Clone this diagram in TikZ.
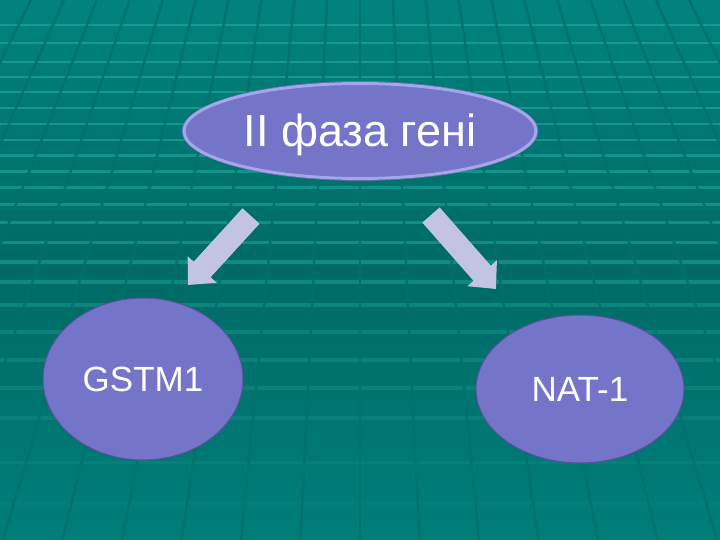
\documentclass[tikz,border=0pt]{standalone}
\usepackage{fontspec}
\setmainfont{Liberation Sans}
\usetikzlibrary{shapes.geometric,arrows.meta}
\definecolor{bgtop}{HTML}{00837E}
\definecolor{bgmid}{HTML}{006A66}
\definecolor{bgbot}{HTML}{007E7A}
\definecolor{stripecol}{HTML}{1A9C92}
\definecolor{gridcol}{HTML}{00706B}
\definecolor{nodefill}{HTML}{7474C8}
\definecolor{nodeedge}{HTML}{5B4E9A}
\definecolor{bevel}{HTML}{A4A6EC}
\definecolor{outline}{HTML}{6A6AA8}
\definecolor{arrowfill}{HTML}{C3C3E5}
\begin{document}
\begin{tikzpicture}[x=1pt,y=-1pt,
  stripe/.style={draw=stripecol},
  gridline/.style={draw=gridcol, line width=2.5pt, opacity=0.85},
  bubble/.style={ellipse, fill=nodefill, draw=nodeedge, line width=1pt, inner sep=0pt, text=white,
    font=\fontsize{35}{40}\selectfont, text height=25pt, text depth=0pt},
  topbubble/.style={ellipse, fill=nodefill, draw=bevel, line width=3pt, inner sep=0pt, text=white,
    font=\fontsize{45}{50}\selectfont, text height=32pt, text depth=0pt,
    minimum width=352pt, minimum height=95pt},
  blockarrow/.style={draw=arrowfill, line width=23pt, -{Triangle[length=21pt,width=38pt]}}]
\useasboundingbox (0,0) rectangle (720,540);
\begin{scope}
\clip (0,0) rectangle (720,540);
\shade[top color=bgtop, bottom color=bgbot, middle color=bgmid] (0,0) rectangle (720,540);
\foreach \yy/\ww/\oo in {25/2/0.9, 43/2/0.9, 62/2/0.9, 77/2/0.9, 92/2.5/0.85, 108/2.5/0.85,
  124/2.5/0.8, 140/2.5/0.8, 156/3/0.8, 172/3/0.8, 188/3/0.75, 205/3/0.75, 223/3/0.7,
  242/3/0.7, 262/3.5/0.65, 282/3.5/0.6, 305/3.5/0.5, 332/3.5/0.45, 360/4/0.4, 388/4/0.35,
  418/4/0.3, 462/3/0.2, 503/3/0.15}
  \draw[stripe, line width=\ww pt, opacity=\oo] (0,\yy) -- (720,\yy);
\foreach \k in {-10,...,10}
  \draw[gridline] (360,-668) -- ({360+\k*59.5},540);
\end{scope}

\draw[outline, line width=0.8pt] (360,131) ellipse [x radius=178, y radius=49.5];
\node[topbubble] (top) at (360,131) {II фаза гені};
\node[bubble, minimum width=200pt, minimum height=162pt] (gstm) at (143,379) {GSTM1};
\node[bubble, minimum width=208pt, minimum height=148pt] (nat) at (580,389) {NAT-1};

\coordinate (la1) at (251,216);
\coordinate (la2) at (188,285);
\coordinate (ra1) at (431,215);
\coordinate (ra2) at (496,289);
\draw[blockarrow] (la1) -- (la2);
\draw[blockarrow] (ra1) -- (ra2);
\end{tikzpicture}
\end{document}
